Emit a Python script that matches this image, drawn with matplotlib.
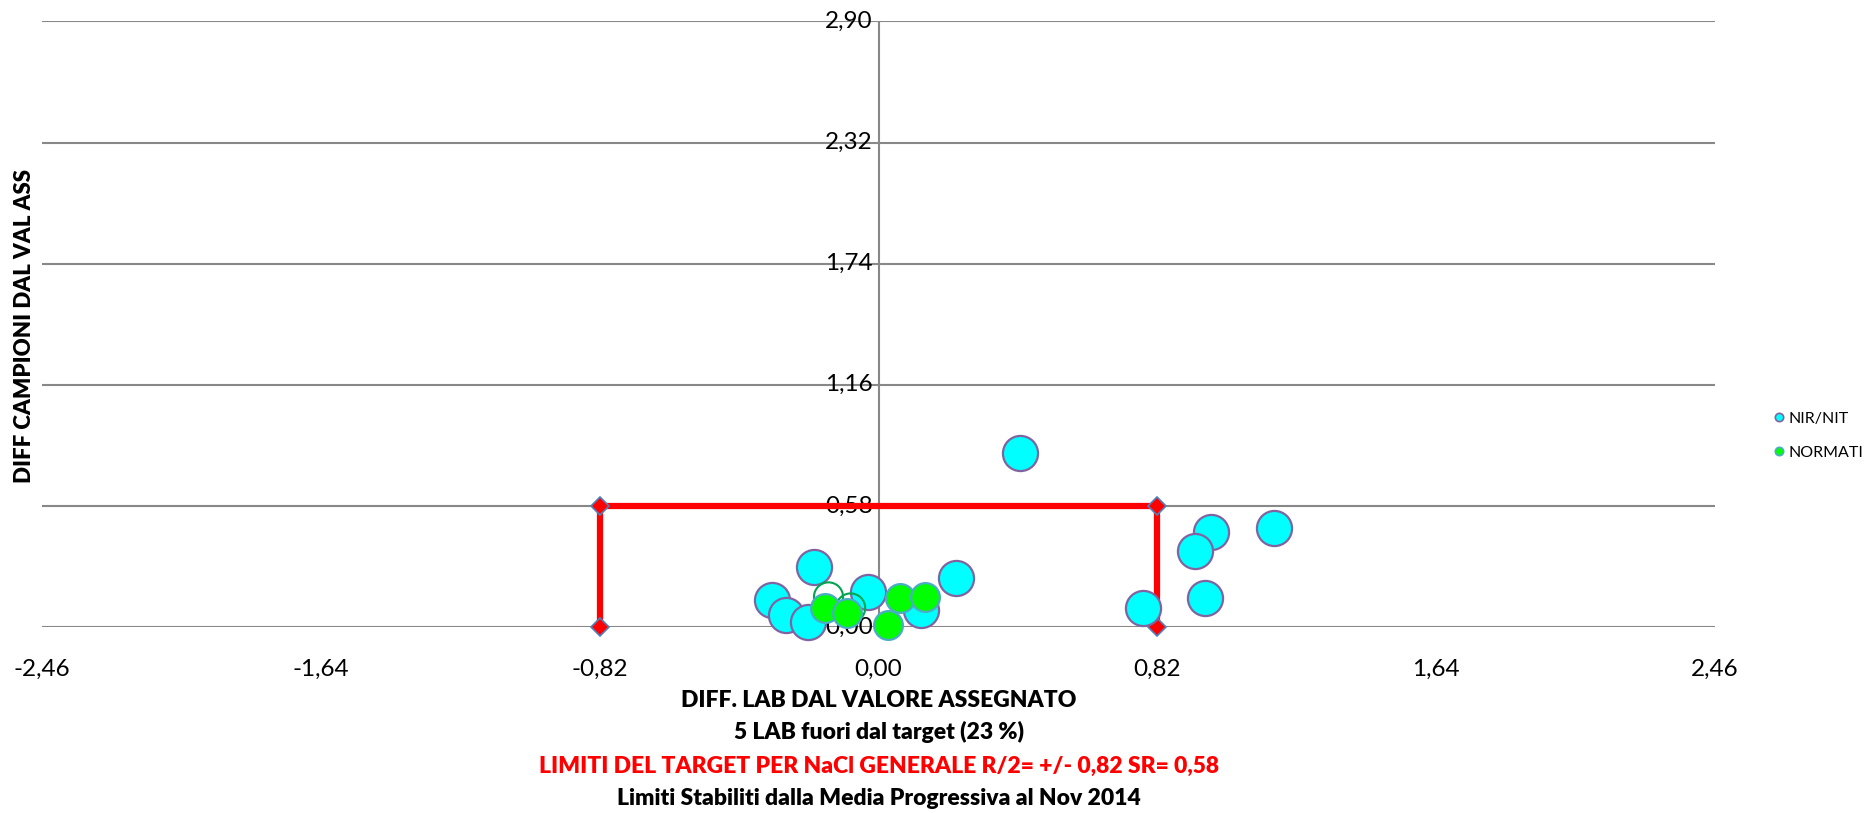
import matplotlib
matplotlib.use("Agg")
import matplotlib.pyplot as plt
from matplotlib.lines import Line2D
from matplotlib.ticker import FixedLocator, FixedFormatter

plt.rcParams['font.family'] = ['Lato', 'DejaVu Sans']

# ---- data ----
x_ticks = [-2.46, -1.64, -0.82, 0.00, 0.82, 1.64, 2.46]
y_ticks = [0.00, 0.58, 1.16, 1.74, 2.32, 2.90]
x_tick_labels = ["-2,46", "-1,64", "-0,82", "0,00", "0,82", "1,64", "2,46"]
y_tick_labels = ["0,00", "0,58", "1,16", "1,74", "2,32", "2,90"]

nir_x = [-0.191, -0.312, -0.271, -0.206, -0.032, 0.229, 0.126, 0.415, 0.979, 0.932, 1.162, 0.959, 0.779]
nir_y = [0.288, 0.129, 0.058, 0.024, 0.168, 0.235, 0.081, 0.834, 0.455, 0.364, 0.475, 0.139, 0.091]

norm_open_x = [-0.147, -0.082]
norm_open_y = [0.144, 0.091]

norm_x = [-0.156, -0.094, 0.029, 0.062, 0.138]
norm_y = [0.091, 0.067, 0.010, 0.139, 0.144]

target_x = [-0.82, -0.82, 0.82, 0.82]
target_y = [0.00, 0.58, 0.58, 0.00]

W, H = 1870, 813
fig = plt.figure(figsize=(W / 100, H / 100), dpi=100)
ax = fig.add_axes([42 / W, 1 - 627 / H, (1715 - 42) / W, (627 - 21.5) / H])

ax.set_xlim(-2.46, 2.46)
ax.set_ylim(0, 2.90)

grid_c = '#888888'
for yv in y_ticks:
    ax.axhline(yv, color=grid_c, lw=1.5, zorder=1)
ax.axvline(0, color=grid_c, lw=1.5, zorder=1)

for s in ax.spines.values():
    s.set_visible(False)

ax.xaxis.set_major_locator(FixedLocator(x_ticks))
ax.xaxis.set_major_formatter(FixedFormatter(x_tick_labels))
ax.tick_params(axis='x', length=0, pad=23, labelsize=17.5)

ax.yaxis.set_major_locator(FixedLocator(y_ticks))
ax.set_yticklabels([])
ax.tick_params(axis='y', length=0, left=False, labelleft=False)
for yv, lab in zip(y_ticks, y_tick_labels):
    ax.annotate(lab, xy=(0, yv), xycoords='data', xytext=(-4, 0), textcoords='offset points',
                ha='right', va='center', fontsize=17.5, zorder=2, annotation_clip=False)

# target box
ax.plot(target_x, target_y, color='#FF0000', lw=4.5, marker='D', markersize=9,
        markerfacecolor='#FF0000', markeredgecolor='#4F81BD', markeredgewidth=1.2, zorder=3,
        clip_on=False)

# points
ax.scatter(nir_x, nir_y, s=640, c='#00FFFF', edgecolors='#8064A2', linewidths=1.6, zorder=4, clip_on=False)
ax.scatter(norm_open_x, norm_open_y, s=440, facecolors='none', edgecolors='#00A550', linewidths=1.5,
           zorder=5, clip_on=False)
ax.scatter(norm_x, norm_y, s=430, c='#00FF00', edgecolors='#4BACC6', linewidths=1.6, zorder=6, clip_on=False)

# axis titles
fig.text(25 / W, 1 - 326 / H, "DIFF CAMPIONI DAL VAL ASS", rotation=90, ha='center', va='center',
         fontsize=16, fontweight='heavy')
cx = 879 / W
fs = 16.5
fig.text(cx, 1 - 700 / H, "DIFF. LAB DAL VALORE ASSEGNATO", ha='center', va='center', fontsize=fs, fontweight='heavy')
fig.text(cx, 1 - 732 / H, "5 LAB fuori dal target (23 %)", ha='center', va='center', fontsize=fs, fontweight='heavy')
fig.text(cx, 1 - 766 / H, "LIMITI DEL TARGET PER NaCl GENERALE R/2= +/- 0,82 SR= 0,58", ha='center', va='center',
         fontsize=fs, fontweight='heavy', color='#FF0000')
fig.text(cx, 1 - 798 / H, "Limiti Stabiliti dalla Media Progressiva al Nov 2014", ha='center', va='center',
         fontsize=fs, fontweight='heavy')

# legend
handles = [
    Line2D([], [], ls='none', marker='o', markersize=6, markerfacecolor='#00FFFF',
           markeredgecolor='#8064A2', markeredgewidth=1.2),
    Line2D([], [], ls='none', marker='o', markersize=6, markerfacecolor='#00FF00',
           markeredgecolor='#4BACC6', markeredgewidth=1.2),
]
fig.legend(handles, ["NIR/NIT", "NORMATI"], loc='center left', bbox_to_anchor=(1774 / W, 1 - 435.5 / H),
           frameon=False, fontsize=11.5, handlelength=0.6, handletextpad=0.3, labelspacing=1.25,
           borderpad=0, borderaxespad=0)

fig.savefig("out.png", dpi=100)
